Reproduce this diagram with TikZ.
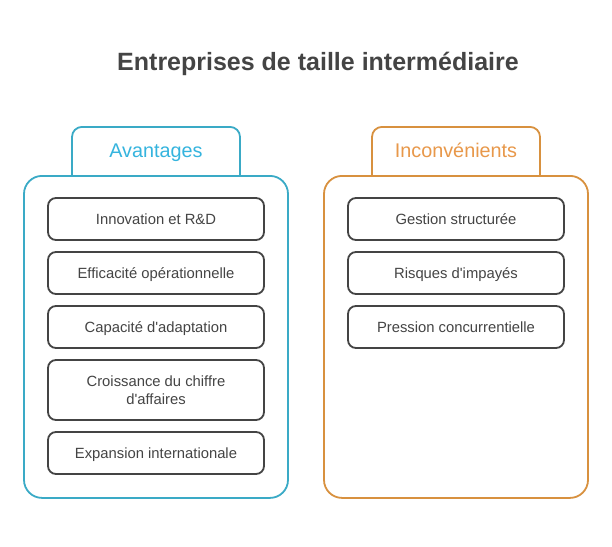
\documentclass[tikz,border=0pt]{standalone}
\usepackage{fontspec}
\setmainfont{Liberation Sans}
\usetikzlibrary{positioning}
\definecolor{proscol}{HTML}{3AAAC6}
\definecolor{prostext}{HTML}{35B4DE}
\definecolor{conscol}{HTML}{D8913F}
\definecolor{constext}{HTML}{E8984A}
\definecolor{inkgray}{HTML}{444444}
\tikzset{itembox/.style={draw=inkgray,line width=1.8pt,rounded corners=8pt,fill=white,minimum width=216pt,minimum height=42pt,font=\fontsize{14.8}{18}\selectfont,text=inkgray,text height=12pt,text depth=2pt},
tabbox/.style={line width=1.8pt,rounded corners=10pt,fill=white,minimum width=168pt,minimum height=60pt,anchor=north},
panelbox/.style={line width=1.8pt,rounded corners=18pt,fill=white,minimum width=264pt,minimum height=322pt,anchor=north},
tablabel/.style={font=\fontsize{19.8}{22}\selectfont,text height=15pt,text depth=5pt}}
\newcommand{\q}{\textquotesingle}

\begin{document}
\begin{tikzpicture}[x=1pt,y=-1pt]
\useasboundingbox (0,0) rectangle (612,546);
\node[font=\bfseries\fontsize{25}{28}\selectfont,text=inkgray] (title) at (318,64) {Entreprises de taille intermédiaire};
% Avantages
\node[tabbox,draw=proscol] (protab) at (156,126) {};
\node[panelbox,draw=proscol] (propanel) at (156,175) {};
\node[tablabel,text=prostext] (prolabel) at (156,152) {Avantages};
\node[itembox] (pro1) at (156,219) {Innovation et R\&D};
\node[itembox] (pro2) at (156,273) {Efficacité opérationnelle};
\node[itembox] (pro3) at (156,327) {Capacité d\q adaptation};
\node[itembox,minimum height=60pt,align=center,text height=,text depth=] (pro4) at (156,390) {Croissance du chiffre\\d\q affaires};
\node[itembox] (pro5) at (156,453) {Expansion internationale};
% Inconvenients
\node[tabbox,draw=conscol] (contab) at (456,126) {};
\node[panelbox,draw=conscol] (conpanel) at (456,175) {};
\node[tablabel,text=constext] (conlabel) at (456,152) {Inconvénients};
\node[itembox] (con1) at (456,219) {Gestion structurée};
\node[itembox] (con2) at (456,273) {Risques d\q impayés};
\node[itembox] (con3) at (456,327) {Pression concurrentielle};
\end{tikzpicture}
\end{document}
